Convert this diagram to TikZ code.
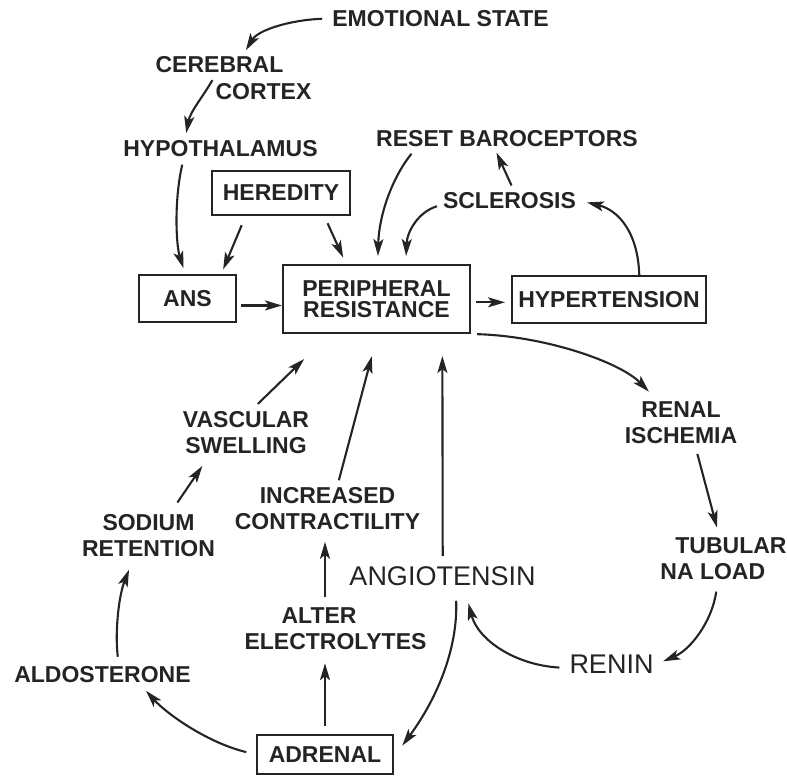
\documentclass[tikz,border=0pt]{standalone}
\usepackage{fontspec}
\setmainfont{Liberation Sans}
\usetikzlibrary{arrows.meta}
\definecolor{ink}{HTML}{242424}

\begin{document}
\begin{tikzpicture}[x=1pt, y=-1pt,
    lbl/.style={inner sep=3pt, text=ink, align=center, font=\fontsize{23}{26}\selectfont\bfseries},
    big/.style={inner sep=3pt, text=ink, font=\fontsize{27}{30}\selectfont},
    boxed/.style={lbl, draw=ink, line width=2pt, inner sep=0pt},
    arr/.style={draw=ink, line width=2.1pt, -{Stealth[length=17pt, width=10pt, inset=4pt]}}]
  \useasboundingbox (0,0) rectangle (787,776);

  % Nodes
  \node[lbl] (emo) at (440.5, 18.5) {EMOTIONAL STATE};
  \node[lbl] (cereb) at (219.5, 65) {CEREBRAL};
  \node[lbl] (cortex) at (263.5, 91.5) {CORTEX};
  \node[lbl] (hypo) at (220.5, 148.5) {HYPOTHALAMUS};
  \node[lbl] (reset) at (507, 138.5) {RESET BAROCEPTORS};
  \node[boxed, minimum width=138pt, minimum height=44pt] (hered) at (281, 193) {HEREDITY};
  \node[lbl] (scler) at (509.5, 200.5) {SCLEROSIS};
  \node[boxed, minimum width=97pt, minimum height=47pt] (ans) at (187.5, 298.5) {ANS};
  \node[boxed, minimum width=187pt, minimum height=68pt,
        font=\fontsize{23}{21}\selectfont\bfseries] (peri) at (376.5, 299) {PERIPHERAL\\RESISTANCE};
  \node[boxed, minimum width=194pt, minimum height=47pt] (hyper) at (609, 299.5) {HYPERTENSION};
  \node[lbl] (renal) at (681, 423) {RENAL\\ISCHEMIA};
  \node[lbl, align=left] (tubular) at (723.5, 558.5) {\hspace*{15pt}TUBULAR\\NA LOAD};
  \node[big] (angio) at (442.5, 576) {ANGIOTENSIN};
  \node[big] (renin) at (611.5, 664) {RENIN};
  \node[lbl] (vasc) at (246, 432.5) {VASCULAR\\SWELLING};
  \node[lbl] (incr) at (327.5, 508.5) {INCREASED\\CONTRACTILITY};
  \node[lbl] (sodium) at (148.5, 536) {SODIUM\\RETENTION};
  \node[lbl] (aldo) at (102.5, 675) {ALDOSTERONE};
  \node[lbl, align=left] (alter) at (335.5, 629) {\hspace*{37pt}ALTER\\ELECTROLYTES};
  \node[boxed, minimum width=136pt, minimum height=39pt] (adrenal) at (325, 754.5) {ADRENAL};

  % Arrows, upper part
  \draw[arr, shorten <=7pt, shorten >=4pt] (emo.west) .. controls (290,20) and (258,30) .. (cereb.25);
  \draw[arr, shorten >=4pt] (cortex.north west) .. controls (204,95) and (190,112) .. (hypo.162);
  \draw[arr, shorten <=5pt, shorten >=6pt] (hypo.-163) .. controls (174,200) and (176,245) .. (ans.95);
  \draw[arr, shorten <=10pt, shorten >=5pt] (hered.-147) -- (ans.36);
  \draw[arr, shorten <=8pt, shorten >=7pt] (hered.-28) -- (peri.131);
  \draw[arr, shorten <=5pt, shorten >=8pt] (reset.-173) .. controls (392,178) and (379,215) .. (peri.88);
  \draw[arr, shorten <=3pt, shorten >=8pt] (scler.-176) .. controls (418,212) and (407,232) .. (peri.50);
  \draw[arr, shorten <=4pt, shorten >=3pt] (scler.72) -- (reset.-136);
  \draw[arr, shorten >=8pt] (hyper.39) .. controls (638,232) and (618,210) .. (scler.east);
  \draw[arr, shorten <=4pt] (ans.-8) -- (ans.-8 -| peri.west);
  \draw[arr, shorten <=5pt, shorten >=6pt] (peri.-2) -- (peri.-2 -| hyper.west);

  % Arrows, renal loop
  \draw[arr, shorten <=6pt, shorten >=10pt] (peri.south east) .. controls (545,336) and (620,362) .. (renal.136);
  \draw[arr, shorten <=7pt, shorten >=7pt] (renal.-59) -- (tubular.101);
  \draw[arr, shorten <=9pt, shorten >=7pt] (tubular.-104) .. controls (712,622) and (690,650) .. (renin.east);
  \draw[arr, shorten <=7pt, shorten >=15pt] (renin.-175) .. controls (515,665) and (478,640) .. (angio.-30);
  \draw[arr, shorten <=7pt, shorten >=22pt] (angio.89) -- (peri.-28);
  \draw[arr, shorten <=12pt, shorten >=14pt] (angio.-44) .. controls (458,650) and (436,700) .. (adrenal.-2);

  % Arrows, adrenal side
  \draw[arr, shorten <=8pt, shorten >=10pt] (adrenal.north) -- (adrenal.north |- alter.south);
  \draw[arr, shorten <=8pt, shorten >=9pt] (alter.north -| adrenal.north) -- (incr.south -| adrenal.north);
  \draw[arr, shorten <=4pt, shorten >=23pt] (incr.67) -- (peri.-88);
  \draw[arr, shorten <=10pt, shorten >=6pt] (adrenal.west) .. controls (205,742) and (165,712) .. (aldo.-16);
  \draw[arr, shorten <=7pt, shorten >=10pt] (aldo.35) .. controls (115,635) and (118,598) .. (sodium.-123);
  \draw[arr, shorten <=11pt, shorten >=11pt] (sodium.47) -- (vasc.-147);
  \draw[arr, shorten <=6pt, shorten >=36pt] (vasc.73) -- (peri.-143);
\end{tikzpicture}
\end{document}
